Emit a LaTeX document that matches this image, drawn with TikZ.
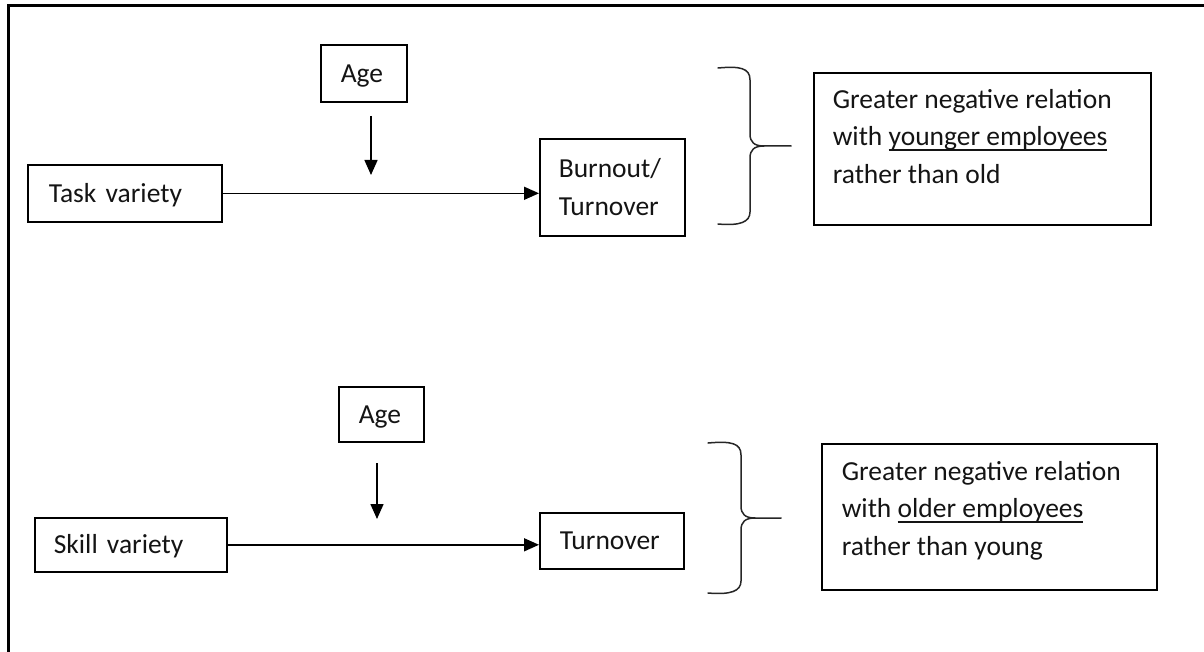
\documentclass[tikz,border=0pt]{standalone}
\usepackage{fontspec}
\setmainfont{Carlito}
\usetikzlibrary{arrows.meta}
\newcommand{\myul}[1]{\setbox0\hbox{#1}\rlap{\rule[-5.5pt]{\wd0}{1.6pt}}\box0}
\newcommand{\rtext}[5]{\parbox[c][#2][t]{#1}{\raggedright\leftskip=#3\relax\vspace*{#4}\strut #5}}
\begin{document}
\begin{tikzpicture}[x=1pt,y=-1pt,
  every node/.style={font=\fontsize{27.5}{37.5}\selectfont, text=black!92},
  sbox/.style={draw, line width=1.6pt, anchor=north west, inner xsep=20pt, inner ysep=0pt,
    text height=18pt, text depth=0pt, align=left},
  tbox/.style={draw, line width=1.6pt, anchor=north west, inner sep=0pt},
  arr/.style={line width=1.5pt, -{Triangle[length=15pt,width=13pt]}},
  brace/.style={line width=1.5pt, black!85, line cap=round}]
\useasboundingbox (0,0) rectangle (1204,652);
% outer frame
\draw[line width=3pt, line join=miter] (8,652) -- (8,6) -- (1204,6);

% ---------- top row ----------
\node[sbox, text width=46pt, minimum height=57pt] (age1) at (320,44) {Age};
\node[sbox, inner xsep=21pt, text width=152pt, minimum height=57pt] (task) at (27,164) {Task variety};
\node[sbox, inner xsep=19pt, text width=107pt, minimum height=97pt, text depth=37pt] (bo) at (539,138) {Burnout/\\Turnover};
\node[tbox] (r1) at (813,72) {\rtext{337pt}{152pt}{19pt}{9pt}{Greater negative relation\\with \myul{younger employees}\\rather than old}};

\coordinate (a1s) at (371,116);
\coordinate (a1e) at (371,175);
\draw[arr] (a1s) -- (a1e);
\draw[arr] (task.east) -- (task.east -| bo.west);

\draw[brace] (718,68) .. controls (740,66) and (750,68) .. (750,80) -- (750,134)
  .. controls (750,142) and (754,146) .. (764,146) -- (791,146);
\draw[brace] (764,146) .. controls (754,146) and (750,150) .. (750,158) -- (750,212)
  .. controls (750,222) and (740,226) .. (718,224);

% ---------- bottom row ----------
\node[sbox, text width=45pt, minimum height=55pt] (age2) at (338,386) {Age};
\node[sbox, inner xsep=19pt, text width=154pt, minimum height=54pt] (skill) at (34,517) {Skill variety};
\node[sbox, text width=104pt, minimum height=56pt] (to) at (539,512) {Turnover};
\node[tbox] (r2) at (821,443) {\rtext{335pt}{146pt}{20pt}{10pt}{Greater negative relation\\with \myul{older employees}\\rather than young}};

\coordinate (a2s) at (377,463);
\coordinate (a2e) at (377,519);
\draw[arr] (a2s) -- (a2e);
\draw[arr] (skill.east) -- (skill.east -| to.west);

\draw[brace] (708,443) .. controls (731,441) and (741,443) .. (741,455) -- (741,506)
  .. controls (741,514) and (745,518) .. (755,518) -- (781,518);
\draw[brace] (755,518) .. controls (745,518) and (741,522) .. (741,530) -- (741,581)
  .. controls (741,591) and (731,595) .. (708,593);
\end{tikzpicture}
\end{document}
